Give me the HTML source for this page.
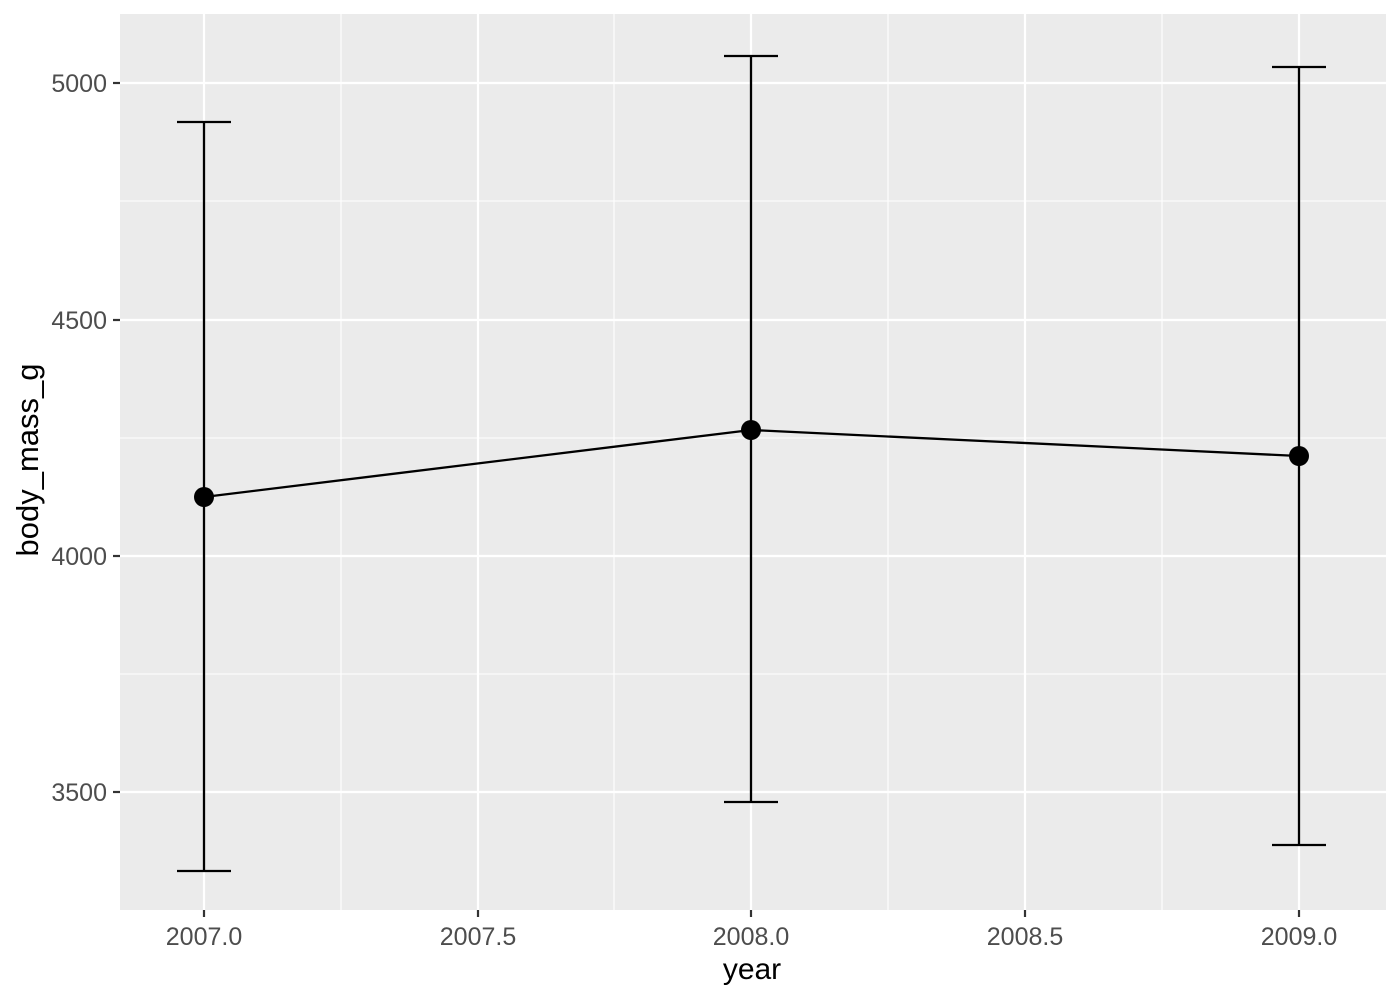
<!DOCTYPE html>
<html><head><meta charset="utf-8"><style>body{margin:0;background:#fff}</style></head><body>
<svg width="1400" height="1000" xmlns="http://www.w3.org/2000/svg" font-family="Liberation Sans, sans-serif">
<rect x="120" y="14" width="1266" height="896" fill="#EBEBEB"/>
<g stroke="#fff" stroke-width="1.1">
<line x1="341" x2="341" y1="14" y2="910"/><line x1="614" x2="614" y1="14" y2="910"/><line x1="888" x2="888" y1="14" y2="910"/><line x1="1162" x2="1162" y1="14" y2="910"/>
<line x1="120" x2="1386" y1="201" y2="201"/><line x1="120" x2="1386" y1="438" y2="438"/><line x1="120" x2="1386" y1="674" y2="674"/>
</g>
<g stroke="#fff" stroke-width="2.2">
<line x1="204" x2="204" y1="14" y2="910"/><line x1="478" x2="478" y1="14" y2="910"/><line x1="751" x2="751" y1="14" y2="910"/><line x1="1025" x2="1025" y1="14" y2="910"/><line x1="1299" x2="1299" y1="14" y2="910"/>
<line x1="120" x2="1386" y1="83" y2="83"/><line x1="120" x2="1386" y1="320" y2="320"/><line x1="120" x2="1386" y1="556" y2="556"/><line x1="120" x2="1386" y1="792" y2="792"/>
</g>
<g stroke="#000" stroke-width="2.3" fill="none">
<line x1="204" x2="204" y1="122" y2="871"/><line x1="177" x2="231" y1="122" y2="122"/><line x1="177" x2="231" y1="871" y2="871"/>
<line x1="751" x2="751" y1="56" y2="802"/><line x1="724" x2="778" y1="56" y2="56"/><line x1="724" x2="778" y1="802" y2="802"/>
<line x1="1299" x2="1299" y1="67" y2="845"/><line x1="1272" x2="1326" y1="67" y2="67"/><line x1="1272" x2="1326" y1="845" y2="845"/>
<polyline points="204,497 751,430 1299,456"/>
</g>
<g fill="#000"><circle cx="204" cy="497" r="10"/><circle cx="751" cy="430" r="10"/><circle cx="1299" cy="456" r="10"/></g>
<g stroke="#333" stroke-width="2.2">
<line x1="204" x2="204" y1="910" y2="917"/><line x1="478" x2="478" y1="910" y2="917"/><line x1="751" x2="751" y1="910" y2="917"/><line x1="1025" x2="1025" y1="910" y2="917"/><line x1="1299" x2="1299" y1="910" y2="917"/>
<line x1="113" x2="120" y1="83" y2="83"/><line x1="113" x2="120" y1="320" y2="320"/><line x1="113" x2="120" y1="556" y2="556"/><line x1="113" x2="120" y1="792" y2="792"/>
</g>
<g fill="#4D4D4D" font-size="25" text-anchor="middle">
<text x="204" y="945">2007.0</text><text x="478" y="945">2007.5</text><text x="751" y="945">2008.0</text><text x="1025" y="945">2008.5</text><text x="1299" y="945">2009.0</text>
</g>
<g fill="#4D4D4D" font-size="25" text-anchor="end">
<text x="107" y="92">5000</text><text x="107" y="329">4500</text><text x="107" y="565">4000</text><text x="107" y="801">3500</text>
</g>
<text x="752" y="979" font-size="30" text-anchor="middle">year</text>
<text transform="translate(38,460) rotate(-90)" font-size="31" text-anchor="middle">body_mass_g</text>
</svg>
</body></html>
